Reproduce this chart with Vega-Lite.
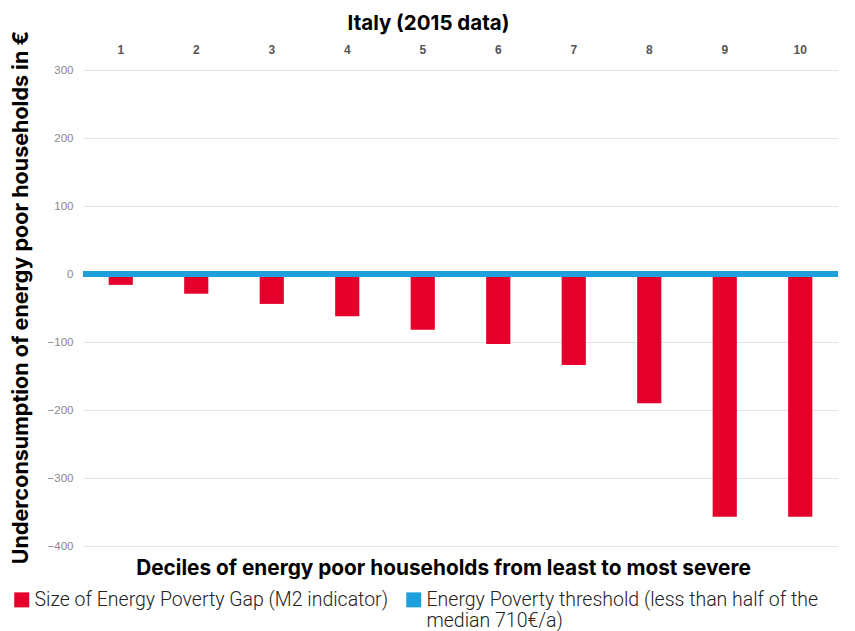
{
  "$schema": "https://vega.github.io/schema/vega-lite/v6.json",
  "width": 755,
  "height": 476,
  "autosize": {"type": "none"},
  "padding": {"left": 83, "top": 70, "right": 17, "bottom": 85},
  "background": "white",
  "title": {
    "text": "Italy (2015 data)",
    "anchor": "middle",
    "font": "Inter",
    "fontSize": 20.5,
    "fontWeight": 700,
    "color": "#000000",
    "dx": -32,
    "dy": 20,
    "offset": 16
  },
  "datasets": {
    "gap": [
      {"decile": "1", "value": -16, "series": "Size of Energy Poverty Gap (M2 indicator)"},
      {"decile": "2", "value": -29, "series": "Size of Energy Poverty Gap (M2 indicator)"},
      {"decile": "3", "value": -44, "series": "Size of Energy Poverty Gap (M2 indicator)"},
      {"decile": "4", "value": -62, "series": "Size of Energy Poverty Gap (M2 indicator)"},
      {"decile": "5", "value": -82, "series": "Size of Energy Poverty Gap (M2 indicator)"},
      {"decile": "6", "value": -103, "series": "Size of Energy Poverty Gap (M2 indicator)"},
      {"decile": "7", "value": -134, "series": "Size of Energy Poverty Gap (M2 indicator)"},
      {"decile": "8", "value": -190, "series": "Size of Energy Poverty Gap (M2 indicator)"},
      {"decile": "9", "value": -357, "series": "Size of Energy Poverty Gap (M2 indicator)"},
      {"decile": "10", "value": -357, "series": "Size of Energy Poverty Gap (M2 indicator)"}
    ],
    "threshold": [
      {"value": 0, "series": "Energy Poverty threshold (less than half of the median 710€/a)"}
    ]
  },
  "config": {
    "view": {"stroke": null},
    "axis": {"domain": false, "ticks": false},
    "legend": {
      "orient": "none",
      "legendX": -71,
      "legendY": 520,
      "direction": "horizontal",
      "columns": 2,
      "columnPadding": 15,
      "padding": 0,
      "symbolType": "square",
      "symbolSize": 225,
      "symbolStrokeWidth": 0,
      "symbolOpacity": 1,
      "labelFont": "Roboto",
      "labelFontSize": 19.5,
      "labelFontWeight": 300,
      "labelColor": "#222222",
      "labelOffset": 3,
      "labelLimit": 600,
      "labelLineHeight": 21,
      "title": null
    }
  },
  "layer": [
    {
      "data": {"name": "gap"},
      "mark": {"type": "bar"},
      "encoding": {
        "x": {
          "field": "decile",
          "type": "ordinal",
          "sort": ["1", "2", "3", "4", "5", "6", "7", "8", "9", "10"],
          "scale": {"paddingInner": 0.68, "paddingOuter": 0.34},
          "axis": {
            "orient": "top",
            "labelAngle": 0,
            "labelFont": "Liberation Sans",
            "labelFontWeight": "bold",
            "labelFontSize": 12,
            "labelColor": "#555555",
            "labelPadding": 14,
            "grid": false,
            "title": "Deciles of energy poor households from least to most severe",
            "titleFont": "Inter",
            "titleFontSize": 20.8,
            "titleFontWeight": 700,
            "titleColor": "#000000",
            "titleX": 360,
            "titleY": 498,
            "titleBaseline": "middle",
            "titleAlign": "center"
          }
        },
        "y": {
          "field": "value",
          "type": "quantitative",
          "scale": {"domain": [-400, 300], "nice": false},
          "axis": {
            "values": [-400, -300, -200, -100, 0, 100, 200, 300],
            "labelFont": "Liberation Sans",
            "labelFontSize": 11.5,
            "labelColor": "#888888",
            "labelPadding": 10,
            "grid": true,
            "gridColor": "#e3e3e3",
            "gridWidth": 1,
            "title": "Underconsumption of energy poor households in €",
            "titleFont": "Inter",
            "titleFontSize": 21.5,
            "titleFontWeight": 700,
            "titleColor": "#000000",
            "titleAngle": -90,
            "titleX": -62,
            "titleY": 227,
            "titleBaseline": "middle",
            "titleAlign": "center"
          }
        },
        "color": {
          "field": "series",
          "type": "nominal",
          "scale": {
            "domain": ["Size of Energy Poverty Gap (M2 indicator)", "Energy Poverty threshold (less than half of the median 710€/a)"],
            "range": ["#E4002B", "#1FA0DC"]
          },
          "legend": {
            "labelExpr": "datum.label == 'Size of Energy Poverty Gap (M2 indicator)' ? [datum.label, ' '] : ['Energy Poverty threshold (less than half of the', 'median 710€/a)']"
          }
        }
      }
    },
    {
      "data": {"name": "threshold"},
      "mark": {"type": "rule", "strokeWidth": 6},
      "encoding": {
        "y": {"field": "value", "type": "quantitative"},
        "color": {"field": "series", "type": "nominal"}
      }
    }
  ]
}
